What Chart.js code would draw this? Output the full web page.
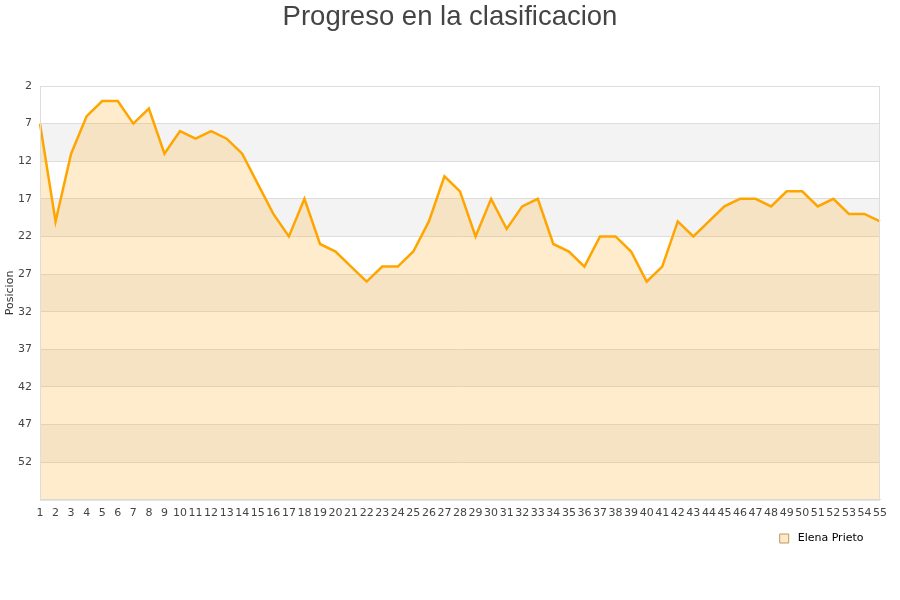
<!DOCTYPE html>
<html>
<head>
<meta charset="utf-8">
<script src="https://cdn.jsdelivr.net/npm/chart.js@4"></script>
<style>
  html, body { margin: 0; padding: 0; background: #fff; }
  #wrap { width: 900px; height: 600px; }
</style>
</head>
<body>
<div id="wrap"><canvas id="grafico"></canvas></div>
<script>
// Datos
const jornadas = [];
for (let j = 1; j <= 55; j++) jornadas.push(String(j));
const posiciones = [7, 20, 11, 6, 4, 4, 7, 5, 11, 8, 9, 8, 9, 11, 15, 19, 22, 17, 23, 24,
                    26, 28, 26, 26, 24, 20, 14, 16, 22, 17, 21, 18, 17, 23, 24, 26, 22, 22, 24, 28,
                    26, 20, 22, 20, 18, 17, 17, 18, 16, 16, 18, 17, 19, 19, 20];
const jugadora = 'Elena Prieto';
const posMin = 2;
const posMax = 57;
const paso = 5;

// Bandas grises alternas y borde del area
const bandas = {
    id: 'bandas',
    beforeDraw(chart) {
        const { ctx, chartArea: a, scales: { y } } = chart;
        ctx.save();
        ctx.fillStyle = '#f3f3f3';
        for (let v = posMin + paso; v < posMax; v += 2 * paso) {
            const y1 = y.getPixelForValue(v);
            const y2 = y.getPixelForValue(Math.min(v + paso, posMax));
            ctx.fillRect(a.left, y1, a.right - a.left, y2 - y1);
        }
        ctx.restore();
    },
    afterDraw(chart) {
        const { ctx, chartArea: a } = chart;
        ctx.save();
        ctx.strokeStyle = '#dddddd';
        ctx.lineWidth = 1;
        ctx.strokeRect(a.left + 0.5, a.top + 0.5, a.right - a.left - 1, a.bottom - a.top);
        ctx.restore();
    }
};

const ctx = document.getElementById('grafico').getContext('2d');
new Chart(ctx, {
    type: 'line',
    data: {
        labels: jornadas,
        datasets: [{
            label: jugadora,
            data: posiciones,
            borderColor: '#ffa500',
            backgroundColor: 'rgba(255, 180, 50, 0.25)',
            borderWidth: 2.5,
            pointRadius: 0,
            pointHoverRadius: 0,
            tension: 0,
            fill: { value: posMax }
        }]
    },
    options: {
        responsive: true,
        maintainAspectRatio: false,
        animation: false,
        layout: { padding: { left: 0, right: 0, top: 0, bottom: 46 } },
        plugins: {
            title: {
                display: true,
                text: 'Progreso en la clasificacion',
                color: '#444444',
                font: { family: '"Liberation Sans Narrow", "Liberation Sans", sans-serif', size: 27.5, weight: 'normal' },
                padding: { top: 1, bottom: 52 }
            },
            legend: {
                position: 'bottom',
                align: 'end',
                fullSize: false,
                labels: {
                    boxWidth: 9,
                    boxHeight: 9,
                    color: '#222222',
                    padding: 6,
                    font: { family: '"DejaVu Sans", sans-serif', size: 11 },
                    generateLabels(chart) {
                        return [{
                            text: ' ' + jugadora + '   ',
                            fillStyle: '#fee9c4',
                            strokeStyle: '#b89a6a',
                            lineWidth: 1,
                            datasetIndex: 0
                        }];
                    }
                }
            },
            tooltip: { enabled: false }
        },
        scales: {
            x: {
                grid: { display: false, drawTicks: false },
                border: { color: '#dddddd' },
                ticks: {
                    autoSkip: false,
                    maxRotation: 0,
                    minRotation: 0,
                    color: '#444444',
                    padding: 7,
                    font: { family: '"DejaVu Sans", sans-serif', size: 11 }
                }
            },
            y: {
                reverse: true,
                min: posMin,
                max: posMax,
                afterFit(scale) { scale.width = 40; },
                grid: { color: '#dddddd', drawTicks: false },
                border: { color: '#dddddd' },
                title: {
                    display: true,
                    text: 'Posicion',
                    color: '#333333',
                    padding: { top: 4, bottom: 0 },
                    font: { family: '"DejaVu Sans", sans-serif', size: 11 }
                },
                ticks: {
                    stepSize: paso,
                    color: '#444444',
                    padding: 8,
                    font: { family: '"DejaVu Sans", sans-serif', size: 11 },
                    callback: (v) => (v === posMax ? '' : v)
                }
            },
            // eje vacio a la derecha, solo para el margen
            margen: {
                position: 'right',
                afterFit(scale) { scale.width = 20; },
                grid: { display: false, drawTicks: false },
                border: { display: false },
                ticks: { display: false }
            }
        }
    },
    plugins: [bandas]
});
</script>
</body>
</html>
